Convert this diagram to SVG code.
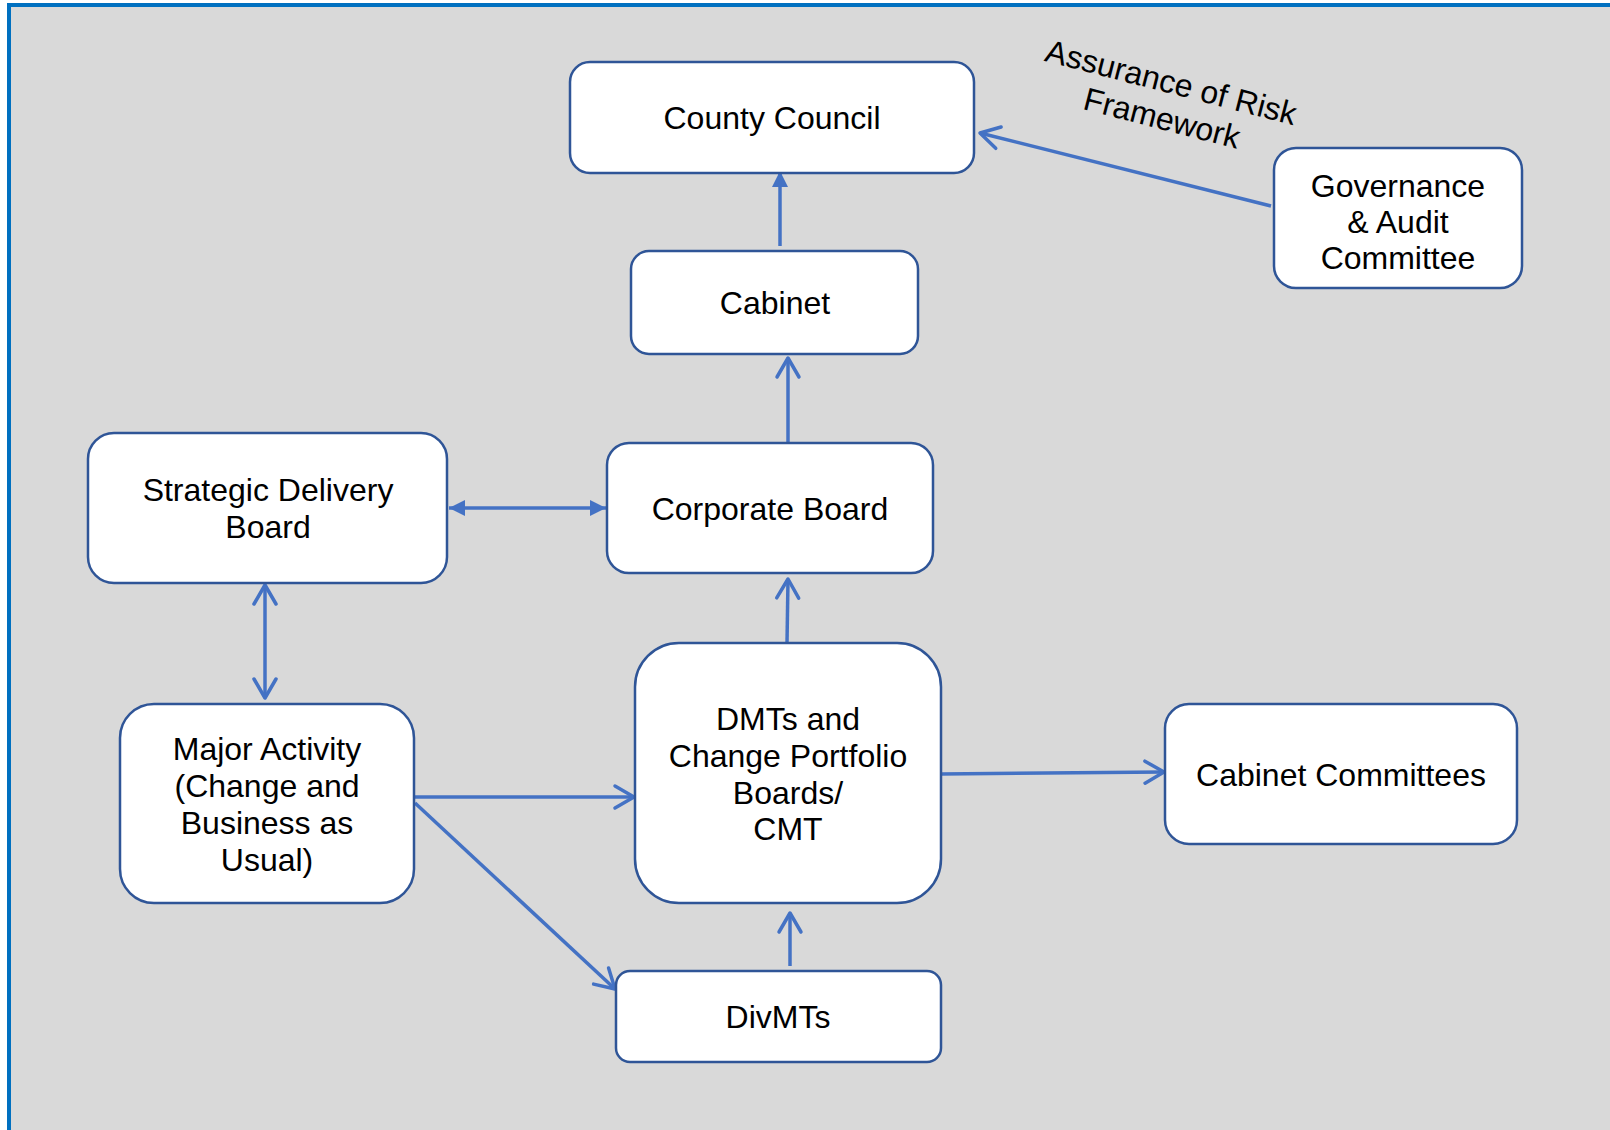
<svg xmlns="http://www.w3.org/2000/svg" width="1610" height="1130" viewBox="0 0 1610 1130">
<defs>
<style>
.box{fill:#ffffff;stroke:#2f5597;stroke-width:2.5}
.t{font-family:"Liberation Sans",Arial,sans-serif;font-size:32px;fill:#000000;text-anchor:middle}
.c{stroke:#4472c4;stroke-width:3.5;fill:none}
</style>
<marker id="open" markerUnits="userSpaceOnUse" markerWidth="26" markerHeight="28" viewBox="0 0 26 28" refX="22" refY="14" orient="auto-start-reverse">
<path d="M3,3 L22,14 L3,25" fill="none" stroke="#4472c4" stroke-width="3.5" stroke-linecap="round" stroke-linejoin="round"/>
</marker>
<marker id="fill" markerUnits="userSpaceOnUse" markerWidth="16" markerHeight="16" viewBox="0 0 16 16" refX="16" refY="8" orient="auto-start-reverse">
<path d="M0,0 L16,8 L0,16 Z" fill="#4472c4"/>
</marker>
</defs>
<rect x="9" y="5" width="1610" height="1135" fill="#d9d9d9" stroke="#0070c0" stroke-width="4"/>

<g id="connectors">
<line class="c" x1="780" y1="246" x2="780" y2="171" marker-end="url(#fill)"/>
<line class="c" x1="788" y1="443" x2="788" y2="358" marker-end="url(#open)"/>
<line class="c" x1="449" y1="508" x2="606" y2="508" marker-start="url(#fill)" marker-end="url(#fill)"/>
<line class="c" x1="265" y1="585" x2="265" y2="698" marker-start="url(#open)" marker-end="url(#open)"/>
<line class="c" x1="787" y1="643" x2="788" y2="579" marker-end="url(#open)"/>
<line class="c" x1="414" y1="797" x2="634" y2="797" marker-end="url(#open)"/>
<line class="c" x1="415" y1="803" x2="615" y2="989" marker-end="url(#open)"/>
<line class="c" x1="790" y1="966" x2="790" y2="913" marker-end="url(#open)"/>
<line class="c" x1="941" y1="774" x2="1164" y2="772" marker-end="url(#open)"/>
<line class="c" x1="1271" y1="206" x2="980" y2="133" marker-end="url(#open)"/>
<g transform="rotate(14.5 1163 106)">
<text class="t" x="1165" y="92">Assurance of Risk</text>
<text class="t" x="1165" y="129">Framework</text>
</g>
</g>

<g id="county-council">
<rect class="box" x="570" y="62" width="404" height="111" rx="20"/>
<text class="t" x="772" y="129">County Council</text>
</g>
<g id="cabinet">
<rect class="box" x="631" y="251" width="287" height="103" rx="18"/>
<text class="t" x="775" y="314">Cabinet</text>
</g>
<g id="governance">
<rect class="box" x="1274" y="148" width="248" height="140" rx="22"/>
<text class="t" x="1398" y="197">Governance</text>
<text class="t" x="1398" y="233">&amp; Audit</text>
<text class="t" x="1398" y="269">Committee</text>
</g>
<g id="strategic-delivery-board">
<rect class="box" x="88" y="433" width="359" height="150" rx="26"/>
<text class="t" x="268" y="501">Strategic Delivery</text>
<text class="t" x="268" y="538">Board</text>
</g>
<g id="corporate-board">
<rect class="box" x="607" y="443" width="326" height="130" rx="22"/>
<text class="t" x="770" y="520">Corporate Board</text>
</g>
<g id="major-activity">
<rect class="box" x="120" y="704" width="294" height="199" rx="34"/>
<text class="t" x="267" y="760">Major Activity</text>
<text class="t" x="267" y="797">(Change and</text>
<text class="t" x="267" y="834">Business as</text>
<text class="t" x="267" y="871">Usual)</text>
</g>
<g id="dmts">
<rect class="box" x="635" y="643" width="306" height="260" rx="44"/>
<text class="t" x="788" y="730">DMTs and</text>
<text class="t" x="788" y="767">Change Portfolio</text>
<text class="t" x="788" y="804">Boards/</text>
<text class="t" x="788" y="840">CMT</text>
</g>
<g id="cabinet-committees">
<rect class="box" x="1165" y="704" width="352" height="140" rx="24"/>
<text class="t" x="1341" y="786">Cabinet Committees</text>
</g>
<g id="divmts">
<rect class="box" x="616" y="971" width="325" height="91" rx="14"/>
<text class="t" x="778" y="1028">DivMTs</text>
</g>
</svg>
